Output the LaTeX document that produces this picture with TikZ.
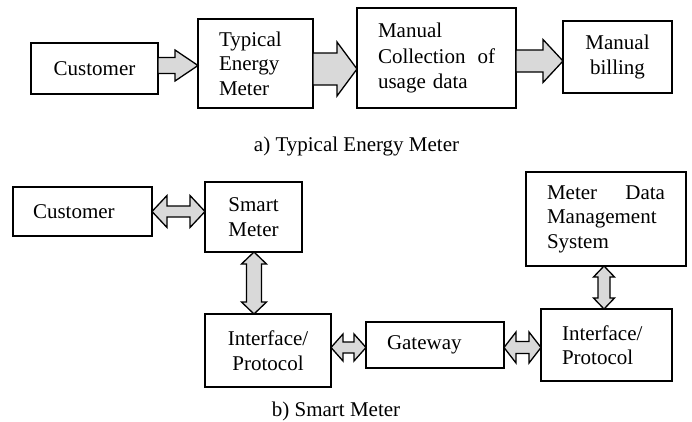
\documentclass[tikz,border=0pt]{standalone}
\usepackage{fontspec}
\setmainfont{Liberation Serif}
\usetikzlibrary{calc}
\definecolor{arrowfill}{HTML}{D9D9D9}
\tikzset{
  box/.style={draw, line width=1.5pt, inner sep=0pt, outer sep=0pt,
    font=\fontsize{21}{24.5}\selectfont},
  blockarrow/.style={draw, fill=arrowfill, line width=1.3pt, line join=miter},
  caption/.style={font=\fontsize{21}{24.5}\selectfont, anchor=base, inner sep=0pt},
}
% one-headed block arrow: start, end, shaft half width, head half width, head length
\newcommand\singlearrow[5]{%
  \coordinate (sa-a) at (#1);
  \coordinate (sa-b) at (#2);
  \coordinate (sa-h) at ($(sa-b)!#5!(sa-a)$);
  \draw[blockarrow] ($(sa-a)!#3!90:(sa-b)$) -- ($(sa-h)!#3!-90:(sa-a)$)
    -- ($(sa-h)!#4!-90:(sa-a)$) -- (sa-b) -- ($(sa-h)!#4!90:(sa-a)$)
    -- ($(sa-h)!#3!90:(sa-a)$) -- ($(sa-a)!#3!-90:(sa-b)$) -- cycle;
}
% two-headed block arrow, same arguments
\newcommand\doublearrow[5]{%
  \coordinate (da-a) at (#1);
  \coordinate (da-b) at (#2);
  \coordinate (da-p) at ($(da-a)!#5!(da-b)$);
  \coordinate (da-q) at ($(da-b)!#5!(da-a)$);
  \draw[blockarrow] (da-a) -- ($(da-p)!#4!90:(da-b)$) -- ($(da-p)!#3!90:(da-b)$)
    -- ($(da-q)!#3!-90:(da-a)$) -- ($(da-q)!#4!-90:(da-a)$) -- (da-b)
    -- ($(da-q)!#4!90:(da-a)$) -- ($(da-q)!#3!90:(da-a)$)
    -- ($(da-p)!#3!-90:(da-b)$) -- ($(da-p)!#4!-90:(da-b)$) -- cycle;
}
\begin{document}
\begin{tikzpicture}[x=1pt, y=-1pt]
\useasboundingbox (0,0) rectangle (692,421);

% a) conventional metering chain
\node[box, minimum width=127pt, minimum height=51pt] (c1) at (94.5,68.5) {Customer};
\node[box, minimum width=115pt, minimum height=89pt, text width=73pt, align=left]
  (tem) at (255.5,63.5) {Typical\\Energy\\Meter};
\node[box, minimum width=159pt, minimum height=100pt, text width=117pt, align=left,
  font=\fontsize{21}{25.5}\selectfont]
  (muc) at (436.5,58) {Manual\\Collection\hfill of\\usage data};
\node[box, minimum width=109pt, minimum height=72pt, align=center]
  (mb) at (617.5,57) {Manual\\billing};
\node[caption] (capa) at (356.5,151) {a) Typical Energy Meter};

\singlearrow{$(c1.east)+(0,-3)$}{$(c1.east -| tem.west)+(0,-3)$}{8pt}{15.5pt}{23pt}
\singlearrow{$(tem.east)+(0,5.5)$}{$(tem.east -| muc.west)+(0,5.5)$}{16pt}{27pt}{20pt}
\singlearrow{$(muc.east)+(0,3)$}{$(muc.east -| mb.west)+(0,3)$}{11pt}{21.5pt}{20pt}

% b) smart metering chain
\node[box, minimum width=139pt, minimum height=49pt, text width=99pt, align=left]
  (c2) at (82.5,211.5) {Customer};
\node[box, minimum width=97pt, minimum height=70pt, align=center]
  (sm) at (253.5,217) {Smart\\Meter};
\node[box, minimum width=126pt, minimum height=73pt, align=center]
  (if1) at (268,350.5) {Interface/\\Protocol};
\node[box, minimum width=138pt, minimum height=46pt, text width=96pt, align=left]
  (gw) at (435,345) {Gateway};
\node[box, minimum width=131pt, minimum height=72pt, text width=89pt, align=left]
  (if2) at (606.5,345) {Interface/\\Protocol};
\node[box, minimum width=160pt, minimum height=94pt, text width=118pt, align=left]
  (mdms) at (606,219) {Meter\hfill Data\\Management\\System};
\node[caption] (capb) at (336,416) {b) Smart Meter};

\doublearrow{c2.east}{c2.east -| sm.west}{5.5pt}{16pt}{15pt}
\doublearrow{$(sm.south)+(0.5,0)$}{$(sm.south |- if1.north)+(0.5,0)$}{7.5pt}{12.5pt}{12pt}
\doublearrow{$(if1.east)+(0,-3)$}{$(if1.east -| gw.west)+(0,-3)$}{5.5pt}{13.5pt}{12pt}
\doublearrow{$(gw.east)+(0,2.5)$}{$(gw.east -| if2.west)+(0,2.5)$}{6pt}{15.5pt}{12pt}
\doublearrow{$(mdms.south)+(-2,0)$}{$(mdms.south |- if2.north)+(-2,0)$}{6pt}{10.5pt}{11pt}
\end{tikzpicture}
\end{document}
